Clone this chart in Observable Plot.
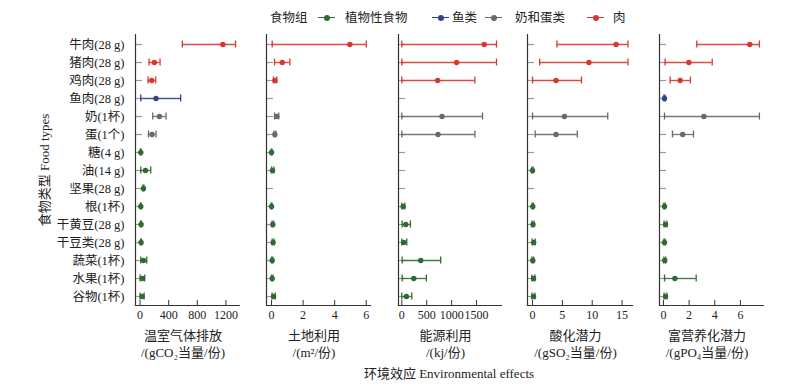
<!DOCTYPE html>
<html>
<head>
<meta charset="utf-8">
<script src="https://cdn.jsdelivr.net/npm/d3@7"></script>
<script src="https://cdn.jsdelivr.net/npm/@observablehq/plot@0.6"></script>
<style>
  html, body { margin: 0; padding: 0; background: #fff; }
  #root { position: relative; width: 800px; height: 390px; overflow: hidden;
    font-family: 'Liberation Serif', 'Noto Sans CJK SC', serif; color: #222; }
  .abs { position: absolute; }
  .t { position: absolute; font-size: 13px; white-space: nowrap; transform: translate(-50%, -50%); line-height: 1; }
  .leg { position: absolute; font-size: 12.5px; white-space: nowrap; top: 11px; line-height: 14px; }
  .sw { position: absolute; top: 17px; height: 0; border-top: 1.6px solid; }
  .swd { position: absolute; top: 15px; width: 6px; height: 6px; border-radius: 50%; }
</style>
</head>
<body>
<div id="root"></div>
<script>
// ---- data ----
const foods = ["牛肉(28 g)","猪肉(28 g)","鸡肉(28 g)","鱼肉(28 g)","奶(1杯)","蛋(1个)","糖(4 g)","油(14 g)","坚果(28 g)","根(1杯)","干黄豆(28 g)","干豆类(28 g)","蔬菜(1杯)","水果(1杯)","谷物(1杯)"];
const groups = ["肉","肉","肉","鱼类","奶和蛋类","奶和蛋类","植物性食物","植物性食物","植物性食物","植物性食物","植物性食物","植物性食物","植物性食物","植物性食物","植物性食物"];
const groupNames = ["植物性食物","鱼类","奶和蛋类","肉"];
const groupColors = ["#2f6a32","#34428a","#636a72","#d8372c"];

// greenhouse gas emissions (gCO2 eq / serving)
const ghgMean = [1157, 200, 163, 223, 270, 167, 10, 75, 47, 10, 14, 14, 47, 33, 28];
const ghgLo   = [591, 126, 112, 10, 177, 117, 4, 10, 40, 4, 8, 8, 10, 0, 0];
const ghgHi   = [1334, 279, 219, 567, 363, 223, 16, 149, 54, 16, 20, 20, 93, 65, 56];
// land use (m2 / serving)
const landMean = [4.96, 0.68, 0.21, null, 0.32, 0.21, 0.0, 0.06, null, 0.0, 0.08, 0.1, 0.04, 0.04, 0.13];
const landLo   = [0.04, 0.19, 0.12, null, 0.19, 0.15, -0.03, 0.0, null, -0.03, 0.03, 0.04, 0.0, 0.0, 0.03];
const landHi   = [6.0, 1.16, 0.33, null, 0.46, 0.27, 0.03, 0.15, null, 0.03, 0.13, 0.16, 0.09, 0.09, 0.23];
// energy use (kJ / serving)
const energyMean = [1653, 1100, 720, null, 807, 727, null, null, null, 27, 80, 40, 380, 240, 93];
const energyLo   = [0, 0, 0, null, 0, 0, null, null, null, 0, 7, 0, 7, 7, 0];
const energyHi   = [1900, 1900, 1466, null, 1620, 1466, null, null, null, 60, 173, 100, 780, 493, 200];
// acidification potential (gSO2 eq / serving)
const acidMean = [14.0, 9.45, 3.94, null, 5.35, 3.94, null, 0.0, null, 0.05, 0.08, 0.2, 0.05, 0.17, 0.17];
const acidLo   = [4.1, 1.2, 0.0, null, 0.0, 0.45, null, -0.1, null, -0.05, -0.1, -0.05, -0.1, -0.1, -0.1];
const acidHi   = [16.0, 16.0, 8.2, null, 12.6, 7.5, null, 0.1, null, 0.15, 0.25, 0.45, 0.2, 0.4, 0.4];
// eutrophication potential (gPO4 eq / serving)
const eutMean = [6.73, 1.98, 1.3, 0.08, 3.15, 1.5, null, null, null, 0.08, 0.16, 0.08, 0.1, 0.89, 0.16];
const eutLo   = [2.6, 0.13, 0.52, 0.03, 0.08, 0.7, null, null, null, 0.03, 0.05, 0.03, 0.03, 0.08, 0.05];
const eutHi   = [7.48, 3.8, 2.1, 0.13, 7.48, 2.34, null, null, null, 0.13, 0.27, 0.13, 0.17, 2.55, 0.27];

const tickSets = [[0,400,800,1200],[0,2,4,6],[0,500,1000,1500],[0,5,10,15],[0,2,4,6]];
const titles1 = ["温室气体排放","土地利用","能源利用","酸化潜力","富营养化潜力"];
const titles2 = ["/(gCO₂当量/份)","/(m²/份)","/(kj/份)","/(gSO₂当量/份)","/(gPO₄当量/份)"];
const yTitle = "食物类型 Food types";
const xTitle = "环境效应 Environmental effects";
const legendTitle = "食物组";

// ---- layout ----
const panels = [
  {mean: ghgMean, lo: ghgLo, hi: ghgHi, x0: 135, x1: 239, domain: [-64, 1390]},
  {mean: landMean, lo: landLo, hi: landHi, x0: 266, x1: 370, domain: [-0.32, 6.27]},
  {mean: energyMean, lo: energyLo, hi: energyHi, x0: 398, x1: 501, domain: [-66, 2000]},
  {mean: acidMean, lo: acidLo, hi: acidHi, x0: 527, x1: 632, domain: [-0.84, 16.75]},
  {mean: eutMean, lo: eutLo, hi: eutHi, x0: 659, x1: 763, domain: [-0.31, 7.8]}
];

const root = document.getElementById("root");
const FONT = "'Liberation Serif', 'Noto Sans CJK SC', serif";
const TOP = 34, BOTTOM = 305, H = 330;

panels.forEach((p, i) => {
  const rows = foods.map((f, j) => ({food: f, group: groups[j], v: p.mean[j], lo: p.lo[j], hi: p.hi[j]}))
    .filter(d => d.v != null);
  const ml = i === 0 ? p.x0 : 10, mr = 12;
  const fw = p.x1 - p.x0;
  const fh = BOTTOM - TOP;
  const marks = [
    Plot.tickY(foods, {y: d => d, insetRight: fw - 7, stroke: "#9a9a9a", strokeWidth: 1.2}),
    Plot.tickX(tickSets[i], {x: d => d, insetTop: fh - 5, stroke: "#333", strokeWidth: 1}),
    Plot.frame({anchor: "left", stroke: "#333", strokeWidth: 1.2}),
    Plot.frame({anchor: "bottom", stroke: "#333", strokeWidth: 1.2}),
    Plot.axisX({ticks: tickSets[i], tickSize: 0, tickPadding: 5, label: null, fontSize: 12, tickFormat: d => String(d)}),
    Plot.ruleY(rows, {y: "food", x1: "lo", x2: "hi", stroke: "group", strokeWidth: 1.3, strokeOpacity: 0.9}),
    Plot.tickX(rows, {x: "lo", y: "food", stroke: "group", strokeWidth: 1.3, insetTop: 5.5, insetBottom: 5.5}),
    Plot.tickX(rows, {x: "hi", y: "food", stroke: "group", strokeWidth: 1.3, insetTop: 5.5, insetBottom: 5.5}),
    Plot.dot(rows, {x: "v", y: "food", fill: "group", r: 2.7})
  ];
  if (i === 0) marks.push(Plot.axisY({tickSize: 0, tickPadding: 11, label: null, fontSize: 12.5}));
  const svg = Plot.plot({
    width: ml + fw + mr, height: H,
    marginLeft: ml, marginRight: mr, marginTop: TOP, marginBottom: H - BOTTOM,
    x: {domain: p.domain},
    y: {type: "band", domain: foods, padding: 0, axis: i === 0 ? undefined : null},
    color: {domain: groupNames, range: groupColors},
    style: {fontFamily: FONT, color: "#222", background: "transparent", overflow: "visible"},
    marks
  });
  const wrap = document.createElement("div");
  wrap.className = "abs";
  wrap.style.left = (p.x0 - ml) + "px";
  wrap.style.top = "0px";
  wrap.appendChild(svg);
  root.appendChild(wrap);

  const cx = (p.x0 + p.x1) / 2 - 4;
  const t1 = document.createElement("div");
  t1.className = "t"; t1.style.left = cx + "px"; t1.style.top = "335px"; t1.textContent = titles1[i];
  const t2 = document.createElement("div");
  t2.className = "t"; t2.style.left = cx + "px"; t2.style.top = "352px"; t2.textContent = titles2[i];
  root.appendChild(t1); root.appendChild(t2);
});

// y axis title
const yt = document.createElement("div");
yt.className = "t";
yt.style.left = "44px"; yt.style.top = "170px";
yt.style.transform = "translate(-50%, -50%) rotate(-90deg)";
yt.textContent = yTitle;
root.appendChild(yt);

// x overall title
const xt = document.createElement("div");
xt.className = "t";
xt.style.left = "449px"; xt.style.top = "373px";
xt.textContent = xTitle;
root.appendChild(xt);

// legend
const legPos = [
  {sw: 318, tx: 345}, {sw: 432, tx: 452}, {sw: 485, tx: 515}, {sw: 587, tx: 613}
];
const lt = document.createElement("div");
lt.className = "leg"; lt.style.left = "270px"; lt.textContent = legendTitle;
root.appendChild(lt);
groupNames.forEach((g, k) => {
  const s = document.createElement("div");
  s.className = "sw"; s.style.left = legPos[k].sw + "px"; s.style.width = "17px";
  s.style.borderColor = groupColors[k];
  const d = document.createElement("div");
  d.className = "swd"; d.style.left = (legPos[k].sw + 5.5) + "px"; d.style.background = groupColors[k];
  const t = document.createElement("div");
  t.className = "leg"; t.style.left = legPos[k].tx + "px"; t.textContent = g;
  root.appendChild(s); root.appendChild(d); root.appendChild(t);
});
</script>
</body>
</html>
